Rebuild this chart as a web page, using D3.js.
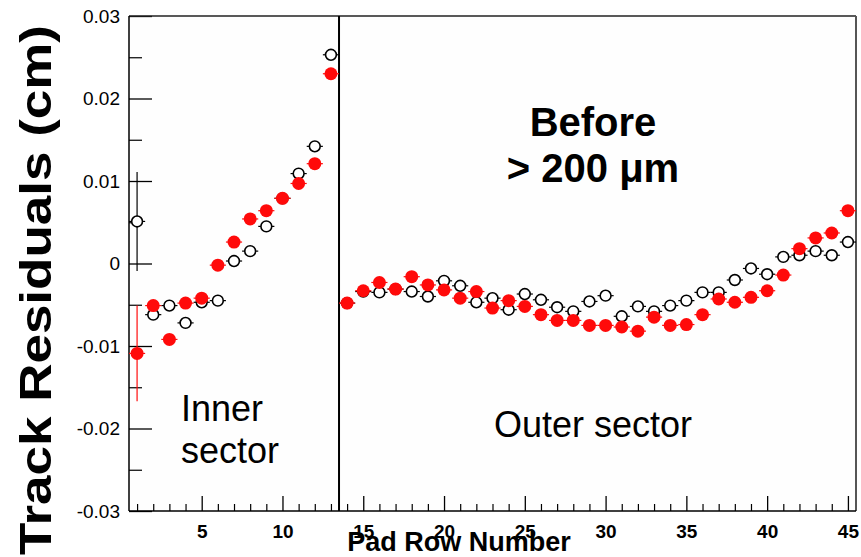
<!DOCTYPE html>
<html>
<head>
<meta charset="utf-8">
<script src="https://cdn.jsdelivr.net/npm/d3@7"></script>
<style>
  html, body { margin: 0; padding: 0; background: #ffffff; }
  svg { display: block; }
</style>
</head>
<body>
<svg id="chart" width="861" height="557"></svg>
<script>
// ---------------- DATA ----------------
const padRows = [1,2,3,4,5,6,7,8,9,10,11,12,13,14,15,16,17,18,19,20,21,22,23,24,25,26,27,28,29,30,31,32,33,34,35,36,37,38,39,40,41,42,43,44,45];

// open black circles
const openValues = [
  0.0051, -0.0062, -0.0051, -0.0072, -0.0047, -0.0045, 0.0003, 0.0015, 0.0045, 0.0079,
  0.0109, 0.0142, 0.0253, -0.0048, -0.0034, -0.0035, -0.0031, -0.0034, -0.0040, -0.0021,
  -0.0027, -0.0047, -0.0042, -0.0056, -0.0037, -0.0044, -0.0053, -0.0058, -0.0046, -0.0039,
  -0.0064, -0.0052, -0.0058, -0.0051, -0.0045, -0.0035, -0.0035, -0.0020, -0.0006, -0.0013,
  0.0008, 0.0010, 0.0015, 0.0010, 0.0026
];
const openErrors = [
  0.0060, 0.0006, 0.0005, 0.0005, 0.0005, 0.0005, 0.0005, 0.0005, 0.0005, 0.0005,
  0.0005, 0.0005, 0.0005, 0.0004, 0.0004, 0.0004, 0.0004, 0.0004, 0.0004, 0.0004,
  0.0004, 0.0004, 0.0004, 0.0004, 0.0004, 0.0004, 0.0004, 0.0004, 0.0004, 0.0004,
  0.0004, 0.0004, 0.0004, 0.0004, 0.0004, 0.0004, 0.0004, 0.0004, 0.0004, 0.0004,
  0.0004, 0.0004, 0.0004, 0.0004, 0.0004
];

// red filled circles
const redValues = [
  -0.0109, -0.0051, -0.0092, -0.0048, -0.0042, -0.0002, 0.0026, 0.0054, 0.0064, 0.0079,
  0.0097, 0.0121, 0.0230, -0.0048, -0.0033, -0.0023, -0.0031, -0.0016, -0.0026, -0.0032,
  -0.0042, -0.0034, -0.0054, -0.0045, -0.0052, -0.0062, -0.0069, -0.0069, -0.0075, -0.0075,
  -0.0077, -0.0082, -0.0065, -0.0075, -0.0074, -0.0062, -0.0043, -0.0047, -0.0041, -0.0033,
  -0.0014, 0.0018, 0.0031, 0.0037, 0.0064
];
const redErrors = [
  0.0058, 0.0006, 0.0005, 0.0005, 0.0006, 0.0005, 0.0005, 0.0005, 0.0005, 0.0005,
  0.0005, 0.0005, 0.0005, 0.0004, 0.0004, 0.0004, 0.0004, 0.0004, 0.0004, 0.0004,
  0.0004, 0.0004, 0.0004, 0.0004, 0.0004, 0.0004, 0.0004, 0.0004, 0.0004, 0.0004,
  0.0004, 0.0004, 0.0006, 0.0004, 0.0004, 0.0004, 0.0004, 0.0004, 0.0004, 0.0004,
  0.0004, 0.0004, 0.0004, 0.0004, 0.0004
];

const xMajorTicks = [5, 10, 15, 20, 25, 30, 35, 40, 45];
const xMinorTicks = [1,2,3,4,6,7,8,9,11,12,13,14,16,17,18,19,21,22,23,24,26,27,28,29,31,32,33,34,36,37,38,39,41,42,43,44];
const yMajorTicks = [-0.03, -0.02, -0.01, 0, 0.01, 0.02, 0.03];
const yMinorTicks = [-0.025, -0.015, -0.005, 0.005, 0.015, 0.025];
const yTickLabels = ["-0.03", "-0.02", "-0.01", "0", "0.01", "0.02", "0.03"];
const sectorBoundary = [13.5];

const xTitle = "Pad Row Number";
const yTitle = "Track Residuals (cm)";
const headline = ["Before", "> 200 \u03bcm"];
const innerLabel = ["Inner", "sector"];
const outerLabel = "Outer sector";

// ---------------- LAYOUT ----------------
const plotL = 129, plotR = 856, plotT = 16, plotB = 511;
const svg = d3.select("#chart");
const font = "'Liberation Sans', Arial, Helvetica, sans-serif";

const x = d3.scaleLinear().domain([0.5, 45.5]).range([plotL, plotR]);
const y = d3.scaleLinear().domain([-0.03, 0.03]).range([plotB, plotT]);

// plot background
svg.append("rect").attr("x", plotL).attr("y", plotT)
  .attr("width", plotR - plotL).attr("height", plotB - plotT).attr("fill", "#fefefe");

// x axis major
const gx = svg.append("g").attr("transform", `translate(0,${plotB})`)
  .call(d3.axisBottom(x).tickValues(xMajorTicks).tickSize(-15).tickPadding(14).tickFormat(d3.format("d")));
gx.select(".domain").remove();
gx.selectAll("line").attr("stroke", "#000").attr("stroke-width", 1.3);
gx.selectAll("text").attr("font-family", font).attr("font-size", 19).attr("font-weight", "bold").attr("fill", "#000");

const gxm = svg.append("g").attr("transform", `translate(0,${plotB})`)
  .call(d3.axisBottom(x).tickValues(xMinorTicks).tickSize(-7).tickFormat(""));
gxm.select(".domain").remove();
gxm.selectAll("line").attr("stroke", "#000").attr("stroke-width", 1.2);

// y axis major
const gy = svg.append("g").attr("transform", `translate(${plotL},0)`)
  .call(d3.axisLeft(y).tickValues(yMajorTicks).tickSize(-23).tickPadding(9)
    .tickFormat((d, i) => yTickLabels[i]));
gy.select(".domain").remove();
gy.selectAll("line").attr("stroke", "#000").attr("stroke-width", 1.3);
gy.selectAll("text").attr("font-family", font).attr("font-size", 19).attr("fill", "#000");

const gym = svg.append("g").attr("transform", `translate(${plotL},0)`)
  .call(d3.axisLeft(y).tickValues(yMinorTicks).tickSize(-13).tickFormat(""));
gym.select(".domain").remove();
gym.selectAll("line").attr("stroke", "#000").attr("stroke-width", 1.2);

// frame
svg.append("line").attr("x1", plotL).attr("x2", plotR).attr("y1", plotT).attr("y2", plotT)
  .attr("stroke", "#222").attr("stroke-width", 1.5);
svg.append("line").attr("x1", plotR).attr("x2", plotR).attr("y1", plotT).attr("y2", plotB)
  .attr("stroke", "#555").attr("stroke-width", 2);
svg.append("line").attr("x1", plotL).attr("x2", plotR).attr("y1", plotB).attr("y2", plotB)
  .attr("stroke", "#000").attr("stroke-width", 1.5);
svg.append("line").attr("x1", plotL).attr("x2", plotL).attr("y1", plotT).attr("y2", plotB)
  .attr("stroke", "#000").attr("stroke-width", 1.5);

// sector boundary
svg.selectAll(".boundary").data(sectorBoundary).enter().append("line")
  .attr("x1", d => x(d)).attr("x2", d => x(d)).attr("y1", plotT).attr("y2", plotB)
  .attr("stroke", "#000").attr("stroke-width", 2);

// ---------------- DATA MARKS ----------------
function drawSeries(values, errors, color, filled, cls) {
  const data = padRows.map((r, i) => ({ r, v: values[i], e: errors[i] }));
  const g = svg.append("g").attr("class", cls);
  g.selectAll(".hx").data(data).enter().append("line")
    .attr("x1", d => x(d.r - 0.5)).attr("x2", d => x(d.r + 0.5))
    .attr("y1", d => y(d.v)).attr("y2", d => y(d.v))
    .attr("stroke", color).attr("stroke-width", 1.2);
  g.selectAll(".vy").data(data).enter().append("line")
    .attr("x1", d => x(d.r)).attr("x2", d => x(d.r))
    .attr("y1", d => y(d.v - d.e)).attr("y2", d => y(d.v + d.e))
    .attr("stroke", color).attr("stroke-width", 1.2);
  g.selectAll("circle").data(data).enter().append("circle")
    .attr("cx", d => x(d.r)).attr("cy", d => y(d.v))
    .attr("r", filled ? 6.5 : 5.4)
    .attr("fill", filled ? color : "#ffffff")
    .attr("stroke", filled ? "none" : color)
    .attr("stroke-width", filled ? 0 : 1.6);
}
drawSeries(openValues, openErrors, "#000000", false, "open");
drawSeries(redValues, redErrors, "#ff0a0a", true, "red");

// ---------------- TEXT ----------------
svg.append("text")
  .attr("x", 459).attr("y", 551).attr("text-anchor", "middle")
  .attr("font-family", font).attr("font-size", 27).attr("font-weight", "bold").attr("fill", "#000")
  .text(xTitle);

svg.append("text")
  .attr("transform", "translate(51,290) rotate(-90)")
  .attr("text-anchor", "middle")
  .attr("font-family", font).attr("font-size", 45).attr("font-weight", "bold").attr("fill", "#000")
  .attr("textLength", 530).attr("lengthAdjust", "spacingAndGlyphs")
  .text(yTitle);

svg.selectAll(".headline").data(headline).enter().append("text")
  .attr("x", 593).attr("y", (d, i) => 136 + i * 46).attr("text-anchor", "middle")
  .attr("font-family", font).attr("font-size", 40).attr("font-weight", "bold").attr("fill", "#000")
  .text(d => d);

svg.selectAll(".inner").data(innerLabel).enter().append("text")
  .attr("x", 181).attr("y", (d, i) => 421 + i * 42).attr("text-anchor", "start")
  .attr("font-family", font).attr("font-size", 36).attr("fill", "#000")
  .text(d => d);

svg.append("text")
  .attr("x", 593).attr("y", 437).attr("text-anchor", "middle")
  .attr("font-family", font).attr("font-size", 36).attr("fill", "#000")
  .text(outerLabel);
</script>
</body>
</html>
